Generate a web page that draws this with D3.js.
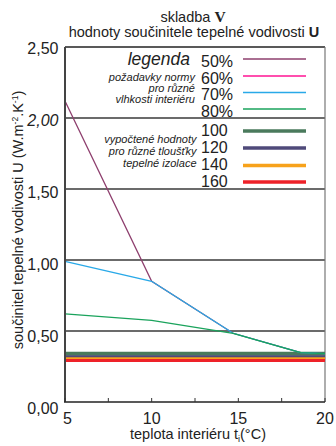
<!DOCTYPE html>
<html>
<head>
<meta charset="utf-8">
<script src="https://cdn.jsdelivr.net/npm/d3@7"></script>
<style>
  html, body { margin: 0; padding: 0; background: #fff; }
  svg { display: block; font-family: "Liberation Sans", Arial, sans-serif; }
</style>
</head>
<body>
<svg id="chart" width="336" height="446"></svg>
<script>
// Interior temperature (°C) at which the U values were evaluated
const temps = [5, 10, 14.7, 18.6, 20];

// Required U values for different interior humidity levels
const humidityLabels = ["50%", "60%", "70%", "80%"];
const humidityColors = ["#8e3f6e", "#ff1493", "#29a9e8", "#1aa35c"];
const u50 = [2.12, 0.85, 0.484, 0.347, 0.34];
const u70 = [0.99, 0.85, 0.484, 0.347, 0.34];
const u80 = [0.62, 0.575, 0.484, 0.347, 0.34];

// Calculated U values for different insulation thicknesses (mm)
const thicknessLabels = ["100", "120", "140", "160"];
const thicknessColors = ["#4a7a5c", "#4f4a7a", "#f7a21b", "#ee2229"];
const thicknessU = [0.339, 0.317, 0.303, 0.292];

// Axis ticks
const yTicks = [0, 0.5, 1, 1.5, 2, 2.5];
const yTickLabels = ["0,00", "0,50", "1,00", "1,50", "2,00", "2,50"];
const xTicks = [5, 10, 15, 20];
const xMinorTicks = [7.5, 12.5, 17.5];

const svg = d3.select("#chart");
const plotLeft = 65, plotRight = 325, plotTop = 47, plotBottom = 402;

const x = d3.scaleLinear().domain([5, 20]).range([plotLeft, plotRight]);
const y = d3.scaleLinear().domain([0, 2.5]).range([plotBottom, plotTop]);
// tick labels sit slightly lower as they go down the axis
const yLab = d3.scaleLinear().domain([0, 2.5]).range([408.5, 48]);

// Horizontal grid lines
svg.append("g").selectAll("line")
  .data(yTicks.filter(v => v > 0 && v < 2.5))
  .join("line")
  .attr("x1", plotLeft).attr("x2", plotRight)
  .attr("y1", d => y(d)).attr("y2", d => y(d))
  .attr("stroke", "#3a3a3a").attr("stroke-width", 1.3);

// Frame
svg.append("line").attr("x1", plotLeft).attr("x2", plotRight).attr("y1", y(2.5)).attr("y2", y(2.5))
  .attr("stroke", "#222").attr("stroke-width", 1.4);
svg.append("line").attr("x1", plotRight).attr("x2", plotRight).attr("y1", y(2.5)).attr("y2", y(0))
  .attr("stroke", "#777").attr("stroke-width", 1.2);

// Calculated U bands
thicknessU.forEach((u, i) => {
  svg.append("line")
    .attr("x1", x(5)).attr("x2", x(20))
    .attr("y1", y(u)).attr("y2", y(u))
    .attr("stroke", thicknessColors[i])
    .attr("stroke-width", [4, 3.5, 3.4, 3][i]);
});

// Humidity requirement curves
const line = d3.line().x((d, i) => x(temps[i])).y(d => y(d));
[[u50, 0], [u70, 2], [u80, 3]].forEach(([vals, ci]) => {
  svg.append("path")
    .attr("d", line(vals))
    .attr("fill", "none")
    .attr("stroke", humidityColors[ci])
    .attr("stroke-width", 1.3);
});

// Axes lines
svg.append("line").attr("x1", plotLeft).attr("x2", plotLeft).attr("y1", y(2.5)).attr("y2", y(0))
  .attr("stroke", "#444").attr("stroke-width", 2);
svg.append("line").attr("x1", plotLeft - 1).attr("x2", plotRight).attr("y1", y(0)).attr("y2", y(0))
  .attr("stroke", "#222").attr("stroke-width", 1.5);

// Bottom axis ticks (pointing inward)
svg.append("g").selectAll("line")
  .data(xTicks.concat(xMinorTicks))
  .join("line")
  .attr("x1", d => x(d)).attr("x2", d => x(d))
  .attr("y1", y(0)).attr("y2", y(0) - 4)
  .attr("stroke", "#333").attr("stroke-width", 1);

// Y tick labels
svg.append("g").selectAll("text")
  .data(yTicks)
  .join("text")
  .attr("x", 58.5)
  .attr("y", d => yLab(d))
  .attr("dy", "0.35em")
  .attr("text-anchor", "end")
  .attr("font-size", 16)
  .attr("font-style", (d, i) => yTickLabels[i] === "2,00" ? "italic" : "normal")
  .attr("fill", "#222")
  .text((d, i) => yTickLabels[i]);

// X tick labels
svg.append("g").selectAll("text")
  .data(xTicks)
  .join("text")
  .attr("x", d => x(d) + (d === 5 ? 2.5 : 0))
  .attr("y", 424)
  .attr("text-anchor", "middle")
  .attr("font-size", 16)
  .attr("fill", "#222")
  .text(d => d);

// Title
const t1 = svg.append("text").attr("x", 193).attr("y", 22)
  .attr("text-anchor", "middle").attr("font-size", 14.5).attr("fill", "#222");
t1.append("tspan").text("skladba ");
t1.append("tspan").attr("font-family", "Liberation Serif, Times New Roman, serif")
  .attr("font-weight", "bold").attr("font-size", 15.5).text("V");

const t2 = svg.append("text").attr("x", 194).attr("y", 37)
  .attr("text-anchor", "middle").attr("font-size", 14.5).attr("fill", "#222");
t2.append("tspan").text("hodnoty součinitele tepelné vodivosti ");
t2.append("tspan").attr("font-weight", "bold").text("U");

// X axis title
const xt = svg.append("text").attr("x", 198).attr("y", 439)
  .attr("text-anchor", "middle").attr("font-size", 14.5).attr("fill", "#222");
xt.append("tspan").text("teplota interiéru t");
xt.append("tspan").attr("font-size", 9).attr("dy", 3).text("i");
xt.append("tspan").attr("dy", -3).text("(°C)");

// Y axis title
const yt = svg.append("text")
  .attr("transform", "translate(23,220) rotate(-90)")
  .attr("text-anchor", "middle").attr("font-size", 14.5).attr("fill", "#222");
yt.append("tspan").text("součinitel tepelné vodivosti U (W.m");
yt.append("tspan").attr("font-size", 8.5).attr("dy", -5).text("-2");
yt.append("tspan").attr("dy", 5).text(".K");
yt.append("tspan").attr("font-size", 8.5).attr("dy", -5).text("-1");
yt.append("tspan").attr("dy", 5).text(")");

// Legend
const lg = svg.append("g").attr("fill", "#222");
lg.append("text").attr("x", 190).attr("y", 65).attr("text-anchor", "end")
  .attr("font-size", 17.5).attr("font-style", "italic").text("legenda");
[["požadavky normy", 81], ["pro různé", 92], ["vlhkosti interiéru", 103]].forEach(([s, yy]) => {
  lg.append("text").attr("x", 195).attr("y", yy).attr("text-anchor", "end")
    .attr("font-size", 11).attr("font-style", "italic").text(s);
});
[["vypočtené hodnoty", 142.5], ["pro různé tloušťky", 155], ["tepelné izolace", 166.5]].forEach(([s, yy]) => {
  lg.append("text").attr("x", 196.5).attr("y", yy).attr("text-anchor", "end")
    .attr("font-size", 11).attr("font-style", "italic").text(s);
});
const hY = [66.5, 83.5, 100, 116.5];
humidityLabels.forEach((s, i) => {
  lg.append("text").attr("x", 201).attr("y", hY[i]).attr("font-size", 16).text(s);
  lg.append("line").attr("x1", 243).attr("x2", 306)
    .attr("y1", hY[i] - 7.5).attr("y2", hY[i] - 7.5)
    .attr("stroke", humidityColors[i]).attr("stroke-width", 1.3);
});
const tY = [135.5, 152.5, 170, 186.5];
thicknessLabels.forEach((s, i) => {
  lg.append("text").attr("x", 201).attr("y", tY[i]).attr("font-size", 16).text(s);
  lg.append("line").attr("x1", 243).attr("x2", 306)
    .attr("y1", tY[i] - 4.5).attr("y2", tY[i] - 4.5)
    .attr("stroke", thicknessColors[i]).attr("stroke-width", 3.5);
});
</script>
</body>
</html>
